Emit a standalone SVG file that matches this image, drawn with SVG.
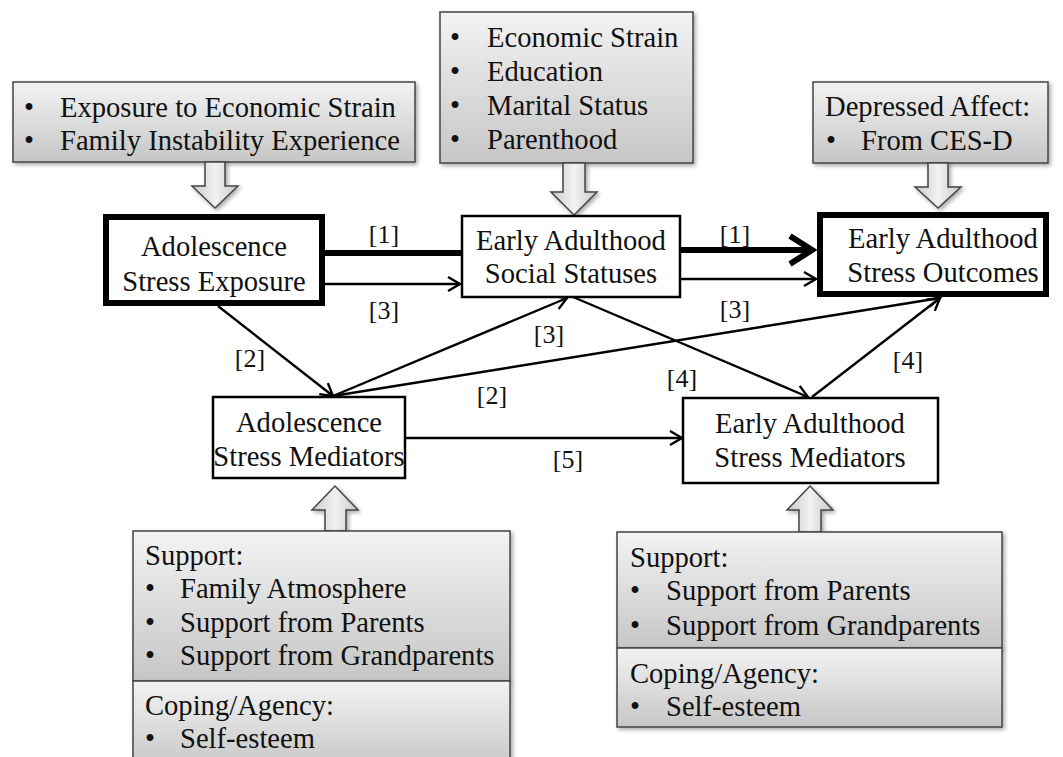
<svg xmlns="http://www.w3.org/2000/svg" width="1063" height="757" viewBox="0 0 1063 757">
  <defs>
    <linearGradient id="panelFill" x1="0" y1="0" x2="0" y2="1">
      <stop offset="0" stop-color="#f3f3f3"/>
      <stop offset="1" stop-color="#c6c6c6"/>
    </linearGradient>
    <linearGradient id="blockFill" x1="0" y1="0" x2="1" y2="0">
      <stop offset="0" stop-color="#c8c8c8"/>
      <stop offset="0.5" stop-color="#f2f2f2"/>
      <stop offset="1" stop-color="#c8c8c8"/>
    </linearGradient>
    <filter id="shadow" x="-5%" y="-5%" width="115%" height="120%">
      <feDropShadow dx="2" dy="2" stdDeviation="2" flood-color="#000" flood-opacity="0.35"/>
    </filter>
    <marker id="head" markerUnits="userSpaceOnUse" markerWidth="18" markerHeight="18" viewBox="0 0 18 18" refX="15" refY="9" orient="auto">
      <path d="M3,2 L15,9 L3,16" fill="none" stroke="#000" stroke-width="2.4"/>
    </marker>
  </defs>
  <style>
    text { font-family: "Liberation Serif", "Times New Roman", serif; font-size: 28.6px; fill: #111; }
    .c { text-anchor: middle; }
    .lbl { font-size: 26px; }
    .panel { fill: url(#panelFill); stroke: #444; stroke-width: 1.5; filter: url(#shadow); }
    .block { fill: url(#blockFill); stroke: #444; stroke-width: 1.5; filter: url(#shadow); }
    .node { fill: #fff; stroke: #000; stroke-width: 2.5; }
    .key { fill: #fff; stroke: #000; stroke-width: 6; }
    .wire { fill: none; stroke: #000; stroke-width: 2.4; }
    .bold { fill: none; stroke: #000; stroke-width: 6; }
  </style>

  <!-- input panels along the top -->
  <g id="panel-adolescence-exposure">
    <rect class="panel" x="13" y="82" width="402" height="80"/>
    <text x="24" y="117">•</text><text x="60" y="117">Exposure to Economic Strain</text>
    <text x="24" y="150">•</text><text x="60" y="150">Family Instability Experience</text>
  </g>
  <g id="panel-social-statuses">
    <rect class="panel" x="440" y="12" width="253" height="151"/>
    <text x="450" y="47">•</text><text x="487" y="47">Economic Strain</text>
    <text x="450" y="81">•</text><text x="487" y="81">Education</text>
    <text x="450" y="115">•</text><text x="487" y="115">Marital Status</text>
    <text x="450" y="149">•</text><text x="487" y="149">Parenthood</text>
  </g>
  <g id="panel-depressed-affect">
    <rect class="panel" x="813" y="82" width="235" height="81"/>
    <text x="825" y="116">Depressed Affect:</text>
    <text x="826" y="150">•</text><text x="861" y="150">From CES-D</text>
  </g>

  <!-- block arrows feeding the nodes -->
  <g id="feed-arrows">
    <path class="block" d="M205,162 L225,162 L225,186 L238,186 L215,208 L192,186 L205,186 Z"/>
    <path class="block" d="M563,163 L585,163 L585,192 L597,192 L574,215 L551,192 L563,192 Z"/>
    <path class="block" d="M928,163 L948,163 L948,187 L961,187 L938,208 L915,187 L928,187 Z"/>
    <path class="block" d="M325,531 L346,531 L346,510 L358,510 L335,486 L312,510 L325,510 Z"/>
    <path class="block" d="M799,532 L821,532 L821,510 L833,510 L810,486 L787,510 L799,510 Z"/>
  </g>

  <!-- connectors -->
  <g id="connectors">
    <line class="bold" x1="325" y1="253" x2="462" y2="253"/>
    <line class="wire" x1="325" y1="284" x2="460" y2="284" marker-end="url(#head)"/>
    <line class="bold" x1="680" y1="250" x2="808" y2="250"/>
    <path class="bold" d="M790,236 L812,250 L790,264" stroke-linejoin="miter"/>
    <line class="wire" x1="680" y1="279" x2="816" y2="279" marker-end="url(#head)"/>
    <line class="wire" x1="218" y1="306" x2="333" y2="396" marker-end="url(#head)"/>
    <line class="wire" x1="333" y1="396" x2="567" y2="298" marker-end="url(#head)"/>
    <line class="wire" x1="333" y1="396" x2="940" y2="298" marker-end="url(#head)"/>
    <line class="wire" x1="573" y1="297" x2="808" y2="397" marker-end="url(#head)"/>
    <line class="wire" x1="812" y1="397" x2="940" y2="298" marker-end="url(#head)"/>
    <line class="wire" x1="405" y1="438" x2="682" y2="438" marker-end="url(#head)"/>

    <text class="lbl c" x="384" y="243">[1]</text>
    <text class="lbl c" x="384" y="319">[3]</text>
    <text class="lbl c" x="735" y="243">[1]</text>
    <text class="lbl c" x="735" y="318">[3]</text>
    <text class="lbl c" x="250" y="367">[2]</text>
    <text class="lbl c" x="549" y="343">[3]</text>
    <text class="lbl c" x="492" y="404">[2]</text>
    <text class="lbl c" x="682" y="387">[4]</text>
    <text class="lbl c" x="908" y="369">[4]</text>
    <text class="lbl c" x="568" y="468">[5]</text>
  </g>

  <!-- core nodes -->
  <g id="node-adolescence-stress-exposure">
    <rect class="key" x="106" y="217" width="216" height="86"/>
    <text class="c" x="214" y="256">Adolescence</text>
    <text class="c" x="214" y="291">Stress Exposure</text>
  </g>
  <g id="node-early-adulthood-social-statuses">
    <rect class="node" x="462" y="216" width="218" height="81"/>
    <text class="c" x="571" y="250">Early Adulthood</text>
    <text class="c" x="571" y="283">Social Statuses</text>
  </g>
  <g id="node-early-adulthood-stress-outcomes">
    <rect class="key" x="820" y="215" width="226" height="79"/>
    <text class="c" x="943" y="248">Early Adulthood</text>
    <text class="c" x="943" y="282">Stress Outcomes</text>
  </g>
  <g id="node-adolescence-stress-mediators">
    <rect class="node" x="213" y="397" width="192" height="81"/>
    <text class="c" x="309" y="432">Adolescence</text>
    <text class="c" x="309" y="466">Stress Mediators</text>
  </g>
  <g id="node-early-adulthood-stress-mediators">
    <rect class="node" x="683" y="398" width="255" height="85"/>
    <text class="c" x="810" y="433">Early Adulthood</text>
    <text class="c" x="810" y="467">Stress Mediators</text>
  </g>

  <!-- moderator panels along the bottom -->
  <g id="panel-adolescence-mediators">
    <rect class="panel" x="133" y="531" width="377" height="150"/>
    <rect class="panel" x="133" y="681" width="377" height="90"/>
    <text x="145" y="565">Support:</text>
    <text x="145" y="598">•</text><text x="180" y="598">Family Atmosphere</text>
    <text x="145" y="632">•</text><text x="180" y="632">Support from Parents</text>
    <text x="145" y="665">•</text><text x="180" y="665">Support from Grandparents</text>
    <text x="145" y="715">Coping/Agency:</text>
    <text x="145" y="748">•</text><text x="180" y="748">Self-esteem</text>
  </g>
  <g id="panel-early-adulthood-mediators">
    <rect class="panel" x="617" y="532" width="385" height="116"/>
    <rect class="panel" x="617" y="648" width="385" height="79"/>
    <text x="630" y="567">Support:</text>
    <text x="630" y="600">•</text><text x="666" y="600">Support from Parents</text>
    <text x="630" y="635">•</text><text x="666" y="635">Support from Grandparents</text>
    <text x="630" y="683">Coping/Agency:</text>
    <text x="630" y="716">•</text><text x="666" y="716">Self-esteem</text>
  </g>
</svg>
